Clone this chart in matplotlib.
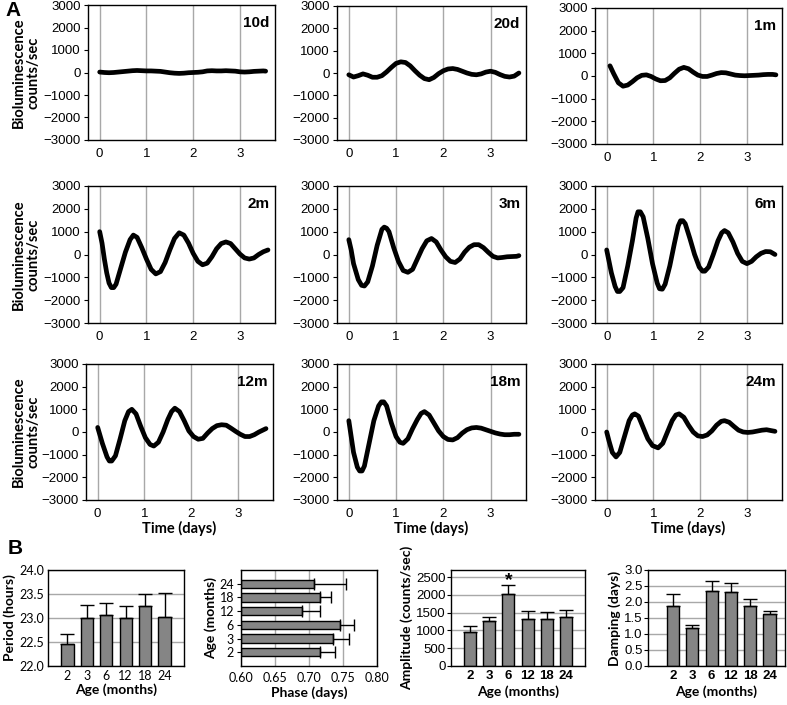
import matplotlib
matplotlib.use("Agg")
import matplotlib.pyplot as plt
import numpy as np

# ---------------- Panel A : bioluminescence traces ----------------
labels_a = ["10d", "20d", "1m", "2m", "3m", "6m", "12m", "18m", "24m"]

t_10d = [0, 0.1, 0.2, 0.3, 0.4, 0.5, 0.6, 0.7, 0.8, 0.9, 1.0, 1.1, 1.2, 1.3, 1.4, 1.5, 1.6, 1.7, 1.8,
         1.9, 2.0, 2.1, 2.2, 2.3, 2.4, 2.5, 2.6, 2.7, 2.8, 2.9, 3.0, 3.1, 3.2, 3.3, 3.4, 3.5, 3.55]
v_10d = [20, 0, -10, 0, 20, 40, 60, 80, 90, 80, 70, 70, 60, 50, 20, -10, -30, -40, -30,
         -10, 0, 10, 30, 70, 80, 70, 70, 80, 70, 60, 30, 20, 30, 50, 60, 70, 60]

t_20d = [0, 0.1, 0.2, 0.3, 0.4, 0.5, 0.6, 0.7, 0.8, 0.9, 1.0, 1.1, 1.2, 1.3, 1.4, 1.5, 1.6, 1.7, 1.8,
         1.9, 2.0, 2.1, 2.2, 2.3, 2.4, 2.5, 2.6, 2.7, 2.8, 2.9, 3.0, 3.1, 3.2, 3.3, 3.4, 3.5, 3.6]
v_20d = [-80, -180, -120, -40, -100, -190, -190, -120, 50, 250, 430, 500, 470, 320, 100, -100, -250, -300, -200,
         -30, 100, 180, 200, 160, 80, 0, -60, -80, -40, 40, 80, 30, -70, -150, -180, -140, 0]

t_1m = [0.07, 0.15, 0.25, 0.35, 0.45, 0.55, 0.65, 0.75, 0.85, 0.95, 1.05, 1.15, 1.25, 1.35, 1.45, 1.55, 1.65,
        1.75, 1.85, 1.95, 2.05, 2.15, 2.25, 2.35, 2.45, 2.55, 2.65, 2.75, 2.85, 2.95, 3.05, 3.15, 3.25, 3.35,
        3.45, 3.55, 3.62]
v_1m = [450, 100, -300, -450, -400, -250, -80, 30, 50, -20, -130, -210, -200, -80, 120, 300, 380,
        320, 170, 40, -20, -20, 40, 110, 150, 140, 90, 40, 20, 10, 20, 30, 40, 60,
        70, 70, 50]

t_2m = [0, 0.05, 0.1, 0.15, 0.2, 0.25, 0.3, 0.35, 0.45, 0.55, 0.65, 0.72, 0.8, 0.9, 1.0, 1.1, 1.2, 1.3, 1.4, 1.5,
        1.6, 1.7, 1.8, 1.9, 2.0, 2.1, 2.2, 2.3, 2.4, 2.5, 2.6, 2.7, 2.8, 2.9, 3.0, 3.1, 3.2, 3.3, 3.4, 3.5, 3.6]
v_2m = [1000, 500, -200, -800, -1250, -1450, -1450, -1300, -600, 100, 650, 850, 750, 300, -200, -650, -850, -750,
        -350, 200, 700, 950, 850, 500, 50, -300, -450, -380, -100, 250, 480, 550, 480, 250, 20, -150, -200, -150,
        0, 120, 200]

t_3m = [0, 0.05, 0.1, 0.2, 0.27, 0.33, 0.4, 0.5, 0.6, 0.7, 0.75, 0.8, 0.85, 0.95, 1.05, 1.15, 1.25, 1.35, 1.45,
        1.55, 1.65, 1.75, 1.85, 1.95, 2.05, 2.15, 2.25, 2.35, 2.45, 2.55, 2.65, 2.75, 2.85, 2.95, 3.05, 3.15,
        3.25, 3.35, 3.45, 3.55, 3.6]
v_3m = [650, 200, -400, -1100, -1350, -1380, -1200, -500, 400, 1100, 1200, 1150, 1000, 300, -300, -700, -780, -650,
        -200, 250, 600, 700, 550, 200, -100, -300, -350, -200, 100, 320, 430, 430, 300, 100, -80, -150,
        -130, -100, -90, -80, -50]

t_6m = [0, 0.05, 0.1, 0.18, 0.23, 0.28, 0.35, 0.45, 0.55, 0.63, 0.67, 0.72, 0.78, 0.88, 0.98, 1.08, 1.13, 1.19,
        1.25, 1.35, 1.45, 1.53, 1.58, 1.63, 1.68, 1.78, 1.88, 1.98, 2.05, 2.1, 2.18, 2.28, 2.38, 2.46, 2.52,
        2.6, 2.7, 2.8, 2.9, 3.0, 3.1, 3.2, 3.3, 3.4, 3.5, 3.6]
v_6m = [200, -300, -800, -1400, -1620, -1620, -1450, -500, 600, 1600, 1870, 1870, 1650, 700, -400, -1250, -1500,
        -1520, -1300, -500, 500, 1250, 1480, 1480, 1350, 700, 0, -550, -730, -730, -550, 0, 600, 950, 1050,
        950, 550, 50, -300, -400, -300, -100, 50, 130, 120, 0]

t_12m = [0, 0.1, 0.2, 0.25, 0.3, 0.38, 0.48, 0.58, 0.66, 0.73, 0.82, 0.92, 1.02, 1.12, 1.2, 1.3, 1.4, 1.5, 1.58,
         1.65, 1.75, 1.85, 1.95, 2.05, 2.15, 2.25, 2.35, 2.45, 2.55, 2.65, 2.75, 2.85, 2.95, 3.05, 3.15, 3.25,
         3.35, 3.45, 3.55, 3.6]
v_12m = [200, -500, -1100, -1280, -1280, -1050, -300, 500, 900, 1000, 800, 250, -250, -550, -620, -450, 0, 550,
         900, 1050, 900, 500, 50, -200, -320, -280, -50, 150, 280, 320, 300, 170, 30, -100, -200, -200,
         -120, 0, 100, 150]

t_18m = [0, 0.05, 0.1, 0.18, 0.23, 0.28, 0.33, 0.43, 0.53, 0.63, 0.69, 0.74, 0.8, 0.9, 1.0, 1.08, 1.15, 1.25,
         1.35, 1.45, 1.53, 1.6, 1.7, 1.8, 1.9, 2.0, 2.1, 2.2, 2.3, 2.4, 2.5, 2.6, 2.7, 2.8, 2.9, 3.0, 3.1, 3.2,
         3.3, 3.4, 3.5, 3.6]
v_18m = [500, -200, -900, -1550, -1720, -1720, -1500, -500, 500, 1150, 1330, 1330, 1150, 400, -200, -450, -500,
         -300, 150, 550, 820, 900, 750, 400, 50, -200, -330, -350, -250, -50, 100, 180, 200, 170, 100, 30,
         -40, -90, -120, -120, -100, -100]

t_24m = [0, 0.05, 0.12, 0.2, 0.28, 0.38, 0.48, 0.55, 0.6, 0.68, 0.78, 0.88, 0.98, 1.1, 1.2, 1.3, 1.4, 1.48, 1.55,
         1.65, 1.75, 1.85, 1.95, 2.05, 2.15, 2.25, 2.35, 2.45, 2.52, 2.62, 2.72, 2.82, 2.92, 3.02, 3.12, 3.22,
         3.32, 3.42, 3.52, 3.6]
v_24m = [0, -400, -900, -1100, -900, -200, 500, 750, 800, 700, 200, -300, -600, -700, -500, 0, 500, 750, 800,
         650, 300, 0, -170, -200, -130, 50, 300, 470, 500, 430, 250, 80, 0, -20, 0, 40,
         80, 100, 60, 30]

traces = [(t_10d, v_10d), (t_20d, v_20d), (t_1m, v_1m),
          (t_2m, v_2m), (t_3m, v_3m), (t_6m, v_6m),
          (t_12m, v_12m), (t_18m, v_18m), (t_24m, v_24m)]

# ---------------- Panel B : summary bars ----------------
ages = ["2", "3", "6", "12", "18", "24"]
period_mean = [22.46, 22.99, 23.06, 22.99, 23.24, 23.03]
period_err = [0.20, 0.29, 0.26, 0.27, 0.25, 0.50]
phase_mean = [0.716, 0.735, 0.745, 0.690, 0.716, 0.708]
phase_err = [0.022, 0.024, 0.021, 0.026, 0.017, 0.047]
amp_mean = [960, 1270, 2020, 1325, 1325, 1380]
amp_err = [160, 120, 265, 225, 200, 200]
damp_mean = [1.86, 1.18, 2.35, 2.31, 1.86, 1.61]
damp_err = [0.40, 0.11, 0.32, 0.28, 0.24, 0.12]

W, H = 787, 705
fig = plt.figure(figsize=(W / 100, H / 100), dpi=100)
plt.rcParams['font.family'] = ['Liberation Sans', 'DejaVu Sans']

def px_axes(l, t, r, b):
    return fig.add_axes([l / W, 1 - b / H, (r - l) / W, (b - t) / H])

GRID = "#a8a8a8"
BAR = "#858585"
BF = ['Lato', 'DejaVu Sans']

# layout of the nine trace panels in pixels (left, top, right, bottom)
boxes = [(88, 5, 275, 140), (337, 6, 526, 140), (595, 8, 782, 144),
         (88, 186, 275, 323), (337, 186, 526, 323), (595, 186, 782, 323),
         (86, 364, 273, 500), (337, 364, 526, 500), (595, 364, 782, 500)]

for i, (box, (t, v)) in enumerate(zip(boxes, traces)):
    ax = px_axes(*box)
    ax.plot(t, v, color="black", lw=3.4, solid_capstyle="round", solid_joinstyle="round")
    ax.set_xlim(-0.25, 3.75)
    ax.set_ylim(-3000, 3000)
    ax.set_xticks([0, 1, 2, 3])
    ax.set_yticks(np.arange(-3000, 3001, 1000))
    ax.xaxis.grid(True, color=GRID, lw=1)
    ax.set_axisbelow(True)
    ax.tick_params(axis="x", length=0, pad=6, labelsize=9.5)
    ax.tick_params(axis="y", length=3, pad=2, labelsize=9.5)
    for s in ax.spines.values():
        s.set_linewidth(1)
    ax.text(0.97, 0.865, labels_a[i], transform=ax.transAxes, ha="right", va="center",
            fontsize=11, fontweight="bold")
    if i % 3 == 0:
        yc = (box[1] + box[3]) / 2
        fig.text(26 / W, 1 - yc / H, "Bioluminescence\ncounts/sec", rotation=90, ha="center",
                 va="center", fontsize=10.5, fontweight="bold", multialignment="center", family=BF,
                 linespacing=1.1)
    if i >= 6:
        xc = (box[0] + box[2]) / 2
        fig.text(xc / W, 1 - 528 / H, "Time (days)", ha="center", va="center",
                 fontsize=10.5, fontweight="bold", family=BF)

fig.text(5 / W, 1 - 10 / H, "A", fontsize=15, fontweight="bold", ha="left", va="center")
fig.text(8 / W, 1 - 548 / H, "B", fontsize=15, fontweight="bold", ha="left", va="center")

pos = np.arange(1, 7)

def style_b(ax):
    for s in ax.spines.values():
        s.set_linewidth(1)
    ax.set_axisbelow(True)

# period
ax = px_axes(48, 570, 184, 666)
ax.bar(pos, period_mean, width=0.63, color=BAR, edgecolor="black", lw=1,
       yerr=[[0] * 6, period_err], capsize=5, error_kw=dict(lw=1, capthick=1))
ax.set_xlim(0, 7)
ax.set_ylim(22, 24)
ax.set_yticks([22.0, 22.5, 23.0, 23.5, 24.0])
ax.set_yticklabels(["22.0", "22.5", "23.0", "23.5", "24.0"], family=BF)
ax.set_xticks(pos)
ax.set_xticklabels(ages, family=BF)
ax.yaxis.grid(True, color=GRID, lw=1)
ax.tick_params(length=0, labelsize=9, pad=3)
ax.set_xlabel("Age (months)", family=BF, fontweight="bold", fontsize=10, labelpad=1)
ax.set_ylabel("Period (hours)", family=BF, fontweight="bold", fontsize=10, labelpad=2)
style_b(ax)

# phase
ax = px_axes(241, 570, 377, 666)
ax.barh(pos, np.array(phase_mean) - 0.6, left=0.6, height=0.6, color=BAR, edgecolor="black", lw=1,
        xerr=[[0] * 6, phase_err], capsize=4, error_kw=dict(lw=1, capthick=1))
ax.set_ylim(0, 7)
ax.set_xlim(0.6, 0.8)
ax.set_xticks([0.60, 0.65, 0.70, 0.75, 0.80])
ax.set_xticklabels(["0.60", "0.65", "0.70", "0.75", "0.80"], family=BF)
ax.set_yticks(pos)
ax.set_yticklabels(ages, family=BF)
ax.xaxis.grid(True, color=GRID, lw=1)
ax.tick_params(axis="x", length=0, labelsize=9, pad=4)
ax.tick_params(axis="y", length=3, labelsize=9, pad=2)
ax.set_xlabel("Phase (days)", family=BF, fontweight="bold", fontsize=10, labelpad=2)
ax.set_ylabel("Age (months)", family=BF, fontweight="bold", fontsize=10, labelpad=2)
style_b(ax)

# amplitude
ax = px_axes(451, 570, 585, 666)
ax.bar(pos, amp_mean, width=0.63, color=BAR, edgecolor="black", lw=1,
       yerr=[[0] * 6, amp_err], capsize=5, error_kw=dict(lw=1, capthick=1))
ax.set_xlim(0, 7)
ax.set_ylim(0, 2700)
ax.set_yticks(np.arange(0, 2501, 500))
ax.set_xticks(pos)
ax.set_xticklabels(ages, fontweight="bold")
ax.yaxis.grid(True, color=GRID, lw=1)
ax.tick_params(axis="x", length=0, labelsize=9.5, pad=3)
ax.tick_params(axis="y", length=3, labelsize=9.5, pad=1)
ax.text(pos[2], amp_mean[2] + amp_err[2] + 130, "*", ha="center", va="center",
        fontsize=14, fontweight="bold")
ax.set_xlabel("Age (months)", family=BF, fontweight="bold", fontsize=10, labelpad=2)
ax.set_ylabel("Amplitude (counts/sec)", family=BF, fontweight="bold", fontsize=10, labelpad=2)
style_b(ax)

# damping
ax = px_axes(648, 570, 785, 666)
ax.bar(pos, damp_mean, width=0.63, color=BAR, edgecolor="black", lw=1,
       yerr=[[0] * 6, damp_err], capsize=5, error_kw=dict(lw=1, capthick=1))
ax.set_xlim(-0.3, 6.8)
ax.set_ylim(0, 3)
ax.set_yticks([0.0, 0.5, 1.0, 1.5, 2.0, 2.5, 3.0])
ax.set_yticklabels(["0.0", "0.5", "1.0", "1.5", "2.0", "2.5", "3.0"])
ax.set_xticks(pos)
ax.set_xticklabels(ages, fontweight="bold")
ax.yaxis.grid(True, color=GRID, lw=1)
ax.tick_params(axis="x", length=0, labelsize=9.5, pad=3)
ax.tick_params(axis="y", length=3, labelsize=9.5, pad=1)
ax.set_xlabel("Age (months)", family=BF, fontweight="bold", fontsize=10, labelpad=2)
ax.set_ylabel("Damping (days)", family=BF, fontweight="bold", fontsize=10, labelpad=2)
style_b(ax)

plt.savefig("out.png", dpi=100)
plt.close()
